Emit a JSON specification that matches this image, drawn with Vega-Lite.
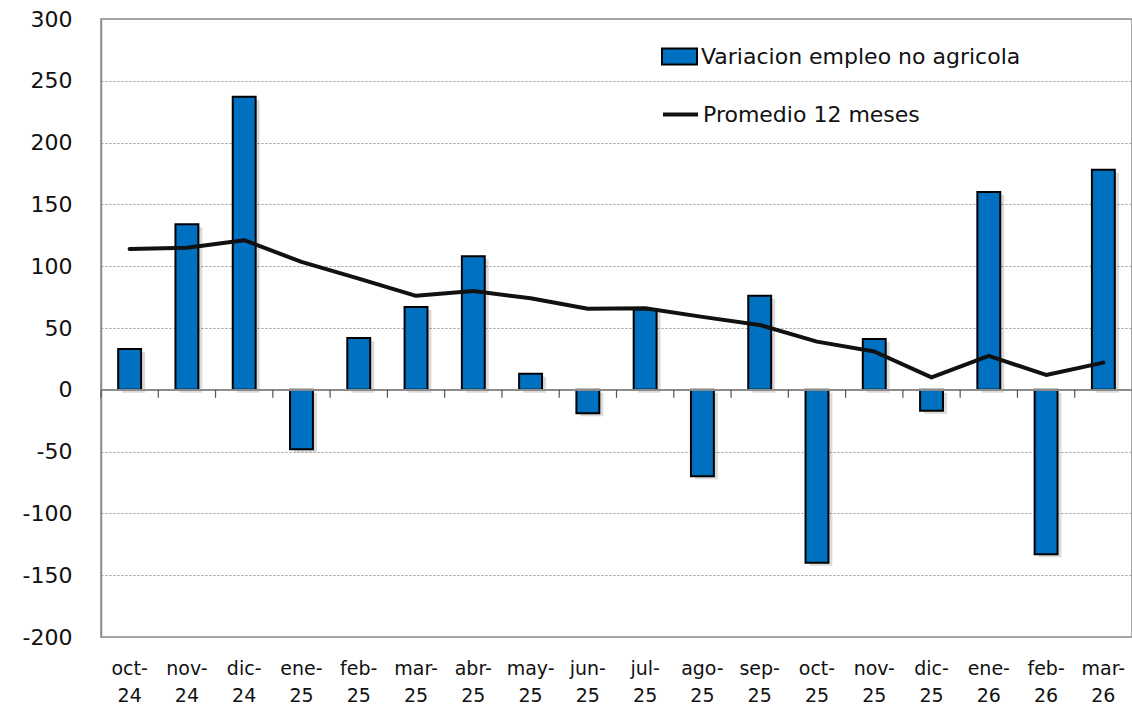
{
  "$schema": "https://vega.github.io/schema/vega-lite/v6.json",
  "autosize": {"type": "none"},
  "padding": {"left": 101, "top": 19, "right": 0, "bottom": 71},
  "width": 1031,
  "height": 618,
  "background": "white",
  "config": {
    "font": "DejaVu Sans",
    "view": {"stroke": "#8c8c8c", "strokeWidth": 1.5}
  },
  "data": {
    "values": [
      {"mes": "oct-24", "serie": "Variacion empleo no agricola", "linea": "Promedio 12 meses", "variacion": 33, "promedio": 114},
      {"mes": "nov-24", "serie": "Variacion empleo no agricola", "linea": "Promedio 12 meses", "variacion": 134, "promedio": 115},
      {"mes": "dic-24", "serie": "Variacion empleo no agricola", "linea": "Promedio 12 meses", "variacion": 237, "promedio": 121},
      {"mes": "ene-25", "serie": "Variacion empleo no agricola", "linea": "Promedio 12 meses", "variacion": -48, "promedio": 103.5},
      {"mes": "feb-25", "serie": "Variacion empleo no agricola", "linea": "Promedio 12 meses", "variacion": 42, "promedio": 90},
      {"mes": "mar-25", "serie": "Variacion empleo no agricola", "linea": "Promedio 12 meses", "variacion": 67, "promedio": 76},
      {"mes": "abr-25", "serie": "Variacion empleo no agricola", "linea": "Promedio 12 meses", "variacion": 108, "promedio": 80},
      {"mes": "may-25", "serie": "Variacion empleo no agricola", "linea": "Promedio 12 meses", "variacion": 13, "promedio": 74},
      {"mes": "jun-25", "serie": "Variacion empleo no agricola", "linea": "Promedio 12 meses", "variacion": -19, "promedio": 65.5},
      {"mes": "jul-25", "serie": "Variacion empleo no agricola", "linea": "Promedio 12 meses", "variacion": 65, "promedio": 66},
      {"mes": "ago-25", "serie": "Variacion empleo no agricola", "linea": "Promedio 12 meses", "variacion": -70, "promedio": 59},
      {"mes": "sep-25", "serie": "Variacion empleo no agricola", "linea": "Promedio 12 meses", "variacion": 76, "promedio": 52.5},
      {"mes": "oct-25", "serie": "Variacion empleo no agricola", "linea": "Promedio 12 meses", "variacion": -140, "promedio": 39},
      {"mes": "nov-25", "serie": "Variacion empleo no agricola", "linea": "Promedio 12 meses", "variacion": 41, "promedio": 31},
      {"mes": "dic-25", "serie": "Variacion empleo no agricola", "linea": "Promedio 12 meses", "variacion": -17, "promedio": 10},
      {"mes": "ene-26", "serie": "Variacion empleo no agricola", "linea": "Promedio 12 meses", "variacion": 160, "promedio": 27.5},
      {"mes": "feb-26", "serie": "Variacion empleo no agricola", "linea": "Promedio 12 meses", "variacion": -133, "promedio": 12},
      {"mes": "mar-26", "serie": "Variacion empleo no agricola", "linea": "Promedio 12 meses", "variacion": 178, "promedio": 22}
    ]
  },
  "encoding": {
    "x": {
      "field": "mes",
      "type": "nominal",
      "sort": null,
      "scale": {"paddingInner": 0.6, "paddingOuter": 0.3},
      "axis": {
        "title": null,
        "domain": false,
        "ticks": false,
        "labelAngle": 0,
        "labelFontSize": 19,
        "labelColor": "#111",
        "labelPadding": 22,
        "labelLineHeight": 27,
        "labelExpr": "[split(datum.value, '-')[0] + '-', split(datum.value, '-')[1]]"
      }
    }
  },
  "layer": [
    {
      "mark": {"type": "bar", "fill": "#000", "opacity": 0.14, "xOffset": 4, "yOffset": 3},
      "encoding": {
        "y": {
          "field": "variacion",
          "type": "quantitative",
          "scale": {"domain": [-200, 300], "nice": false},
          "axis": {
            "title": null,
            "values": [-200, -150, -100, -50, 0, 50, 100, 150, 200, 250, 300],
            "ticks": false,
            "domainColor": "#8c8c8c",
            "domainWidth": 1.5,
            "labelFontSize": 22,
            "labelColor": "#111",
            "labelPadding": 29,
            "labelExpr": "'' + datum.value",
            "grid": true,
            "gridColor": "#9a9a9a",
            "gridDash": [2, 2],
            "gridWidth": 1
          }
        }
      }
    },
    {
      "mark": {"type": "bar", "stroke": "#000", "strokeWidth": 2},
      "encoding": {
        "y": {"field": "variacion", "type": "quantitative"},
        "fill": {
          "field": "serie",
          "type": "nominal",
          "scale": {"range": ["#0070C0"]},
          "legend": {
            "title": null,
            "orient": "none",
            "legendX": 560,
            "legendY": 19,
            "padding": 0,
            "symbolType": "M-1,-0.46H1V0.46H-1Z",
            "symbolSize": 1225,
            "symbolStrokeColor": "#000",
            "symbolStrokeWidth": 2,
            "symbolOpacity": 1,
            "labelFontSize": 22,
            "labelColor": "#111",
            "labelOffset": 3,
            "labelLimit": 500
          }
        }
      }
    },
    {
      "mark": {"type": "rule", "color": "#8c8c8c", "strokeWidth": 1.5},
      "encoding": {"y": {"datum": 0}, "x": null}
    },
    {
      "mark": {"type": "rule", "color": "#555", "strokeWidth": 1.2},
      "encoding": {
        "x": {"field": "mes", "type": "nominal", "sort": null, "bandPosition": -0.75},
        "y": {"datum": 0},
        "y2": {"datum": -6.5}
      }
    },
    {
      "mark": {"type": "line", "strokeWidth": 4, "strokeJoin": "round", "strokeCap": "round"},
      "encoding": {
        "y": {"field": "promedio", "type": "quantitative"},
        "stroke": {
          "field": "linea",
          "type": "nominal",
          "scale": {"range": ["#111111"]},
          "legend": {
            "title": null,
            "orient": "none",
            "legendX": 560,
            "legendY": 76,
            "padding": 0,
            "symbolType": "stroke",
            "symbolSize": 1225,
            "symbolStrokeWidth": 4,
            "labelFontSize": 22,
            "labelColor": "#111",
            "labelOffset": 3,
            "labelLimit": 500
          }
        }
      }
    }
  ]
}
